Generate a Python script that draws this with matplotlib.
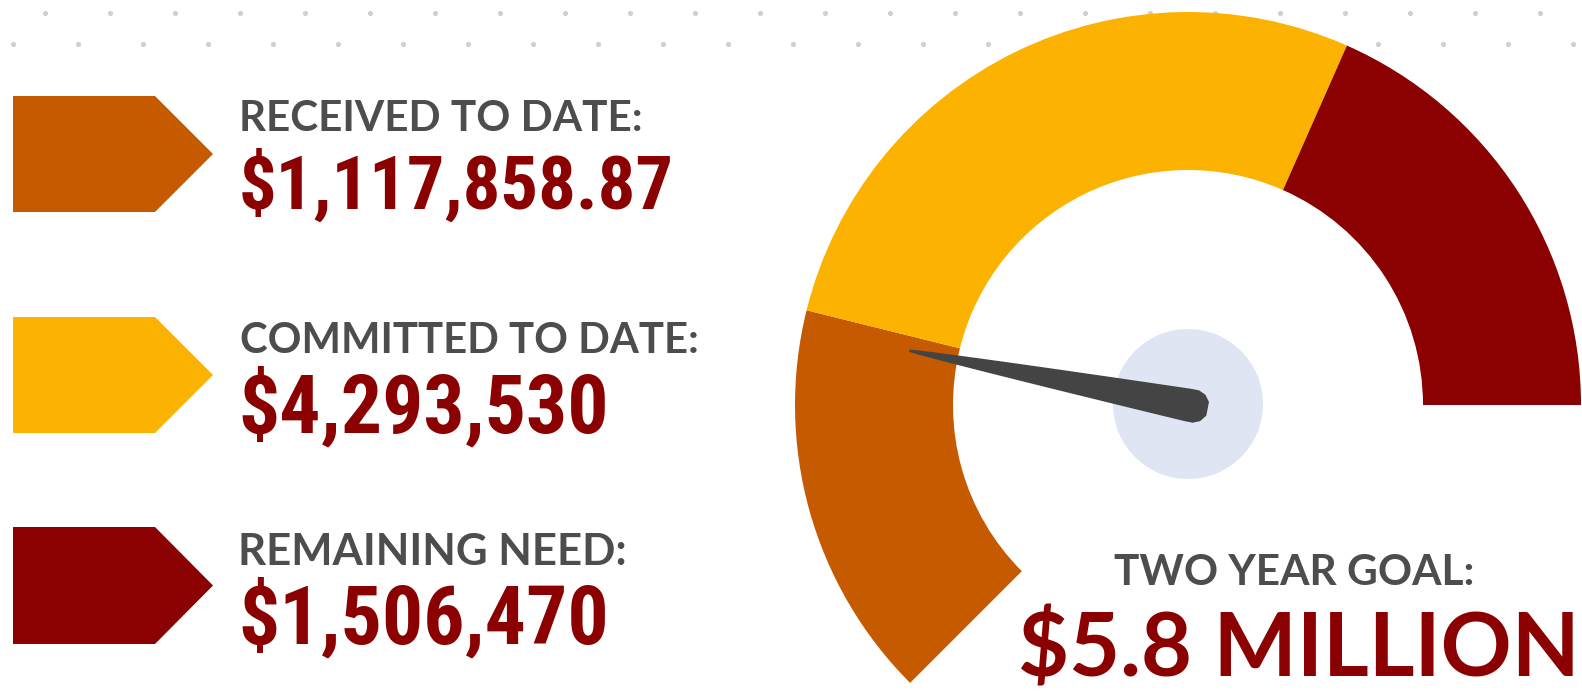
import numpy as np
import matplotlib
matplotlib.use("Agg")
import matplotlib.pyplot as plt
from matplotlib.patches import Wedge, Polygon, Circle
from matplotlib.font_manager import FontProperties, findfont
from matplotlib.textpath import TextPath

# ---------------- data ----------------
labels = ["RECEIVED TO DATE:", "COMMITTED TO DATE:", "REMAINING NEED:"]
amounts = [1117858.87, 4293530, 1506470]
amount_text = ["$1,117,858.87", "$4,293,530", "$1,506,470"]
goal_label = "TWO YEAR GOAL:"
goal_text = "$5.8 MILLION"
goal_amount = 5800000
# share of the dial occupied by each segment, as drawn in the graphic
gauge_share = [0.262, 0.444, 0.294]
needle_share = 0.249
colors = ["#C55A00", "#FCB200", "#8B0000"]

W, H = 1582, 693
def Y(y):
    return H - y

fig = plt.figure(figsize=(W / 100, H / 100), dpi=100)
ax = fig.add_axes([0, 0, 1, 1])
ax.set_xlim(0, W)
ax.set_ylim(0, H)
ax.axis("off")

# ---------------- dotted background ----------------
xs1 = np.arange(45, W, 65)
xs2 = np.arange(13, W, 65)
ax.scatter(xs1, np.full(len(xs1), Y(13)), s=14, c="#d0d0d4", lw=0, zorder=0)
ax.scatter(xs2, np.full(len(xs2), Y(44)), s=14, c="#d0d0d4", lw=0, zorder=0)

# ---------------- gauge ----------------
cx, cy = 1188, Y(405)
r_out, r_in = 393, 235
start, span = 225.0, 225.0
a = start
for share, col in zip(gauge_share, colors):
    a2 = a - share * span
    ax.add_patch(Wedge((cx, cy), r_out, a2, a, width=r_out - r_in,
                       fc=col, ec="none", zorder=2))
    a = a2

ax.add_patch(Circle((cx, Y(404)), 75, fc="#DFE5F3", ec="none", zorder=3))

th = np.radians(start - needle_share * span)
u = np.array([np.cos(th), np.sin(th)])
v = np.array([-np.sin(th), np.cos(th)])
along = np.linspace(284, 0, 30)
half = 1.2 + (16.5 - 1.2) * ((284 - along) / 284) ** 0.85
top = [(p, q) for p, q in zip(along, half)]
cap = [(-8, 16.5), (-15, 13.5), (-20, 7), (-20, -7), (-15, -13.5), (-8, -16.5)]
bottom = [(p, -q) for p, q in zip(along[::-1], half[::-1])]
prof = top + cap + bottom
pts = [np.array([cx, cy]) + p * u + q * v for p, q in prof]
ax.add_patch(Polygon(pts, closed=True, fc="#444444", ec="none", zorder=4))

# ---------------- left arrows ----------------
arrow_rows = [(96, 212), (317, 433), (527, 644)]
for (t, b), col in zip(arrow_rows, colors):
    m = (t + b) / 2
    ax.add_patch(Polygon([(13, Y(t)), (155, Y(t)), (213, Y(m)), (155, Y(b)), (13, Y(b))],
                         closed=True, fc=col, ec="none", zorder=2))

# ---------------- text ----------------
def pick(cands):
    for c in cands:
        try:
            findfont(FontProperties(family=c), fallback_to_default=False)
            return c
        except Exception:
            pass
    return "DejaVu Sans"

val_font = pick(["Liberation Sans Narrow", "Roboto Condensed", "DejaVu Sans Condensed", "Lato"])
lab_font = pick(["Lato", "DejaVu Sans"])
goal_font = pick(["Lato", "DejaVu Sans"])

def fit(s, x, ybase, tw, th_, family, weight, color):
    fp = FontProperties(family=family, weight=weight)
    ext = TextPath((0, 0), s, size=1, prop=fp).get_extents()
    cap_h = TextPath((0, 0), "H", size=1, prop=fp).get_extents().height
    px = min(tw / ext.width, th_ / cap_h)
    fp2 = fp.copy()
    fp2.set_size(px * 72 / 100)
    ax.text(x - ext.x0 * px, Y(ybase), s, fontproperties=fp2, color=color,
            ha="left", va="baseline", zorder=5)

label_w = [399, 454, 384]
label_base = [131, 353, 565]
value_w = [429, 419, 396]
value_base = [209, 432, 643]
for i in range(3):
    fit(labels[i], 242, label_base[i], label_w[i], 33, lab_font, "bold", "#4D4D4D")
    fit(amount_text[i], 242, value_base[i], value_w[i], 58, val_font, "bold", "#8B0000")

fit(goal_label, 1115, 585, 358, 33, lab_font, "bold", "#4D4D4D")
fit(goal_text, 1021, 676, 552, 67, goal_font, "bold", "#8B0000")

fig.savefig("out.png", dpi=100, facecolor="white")
